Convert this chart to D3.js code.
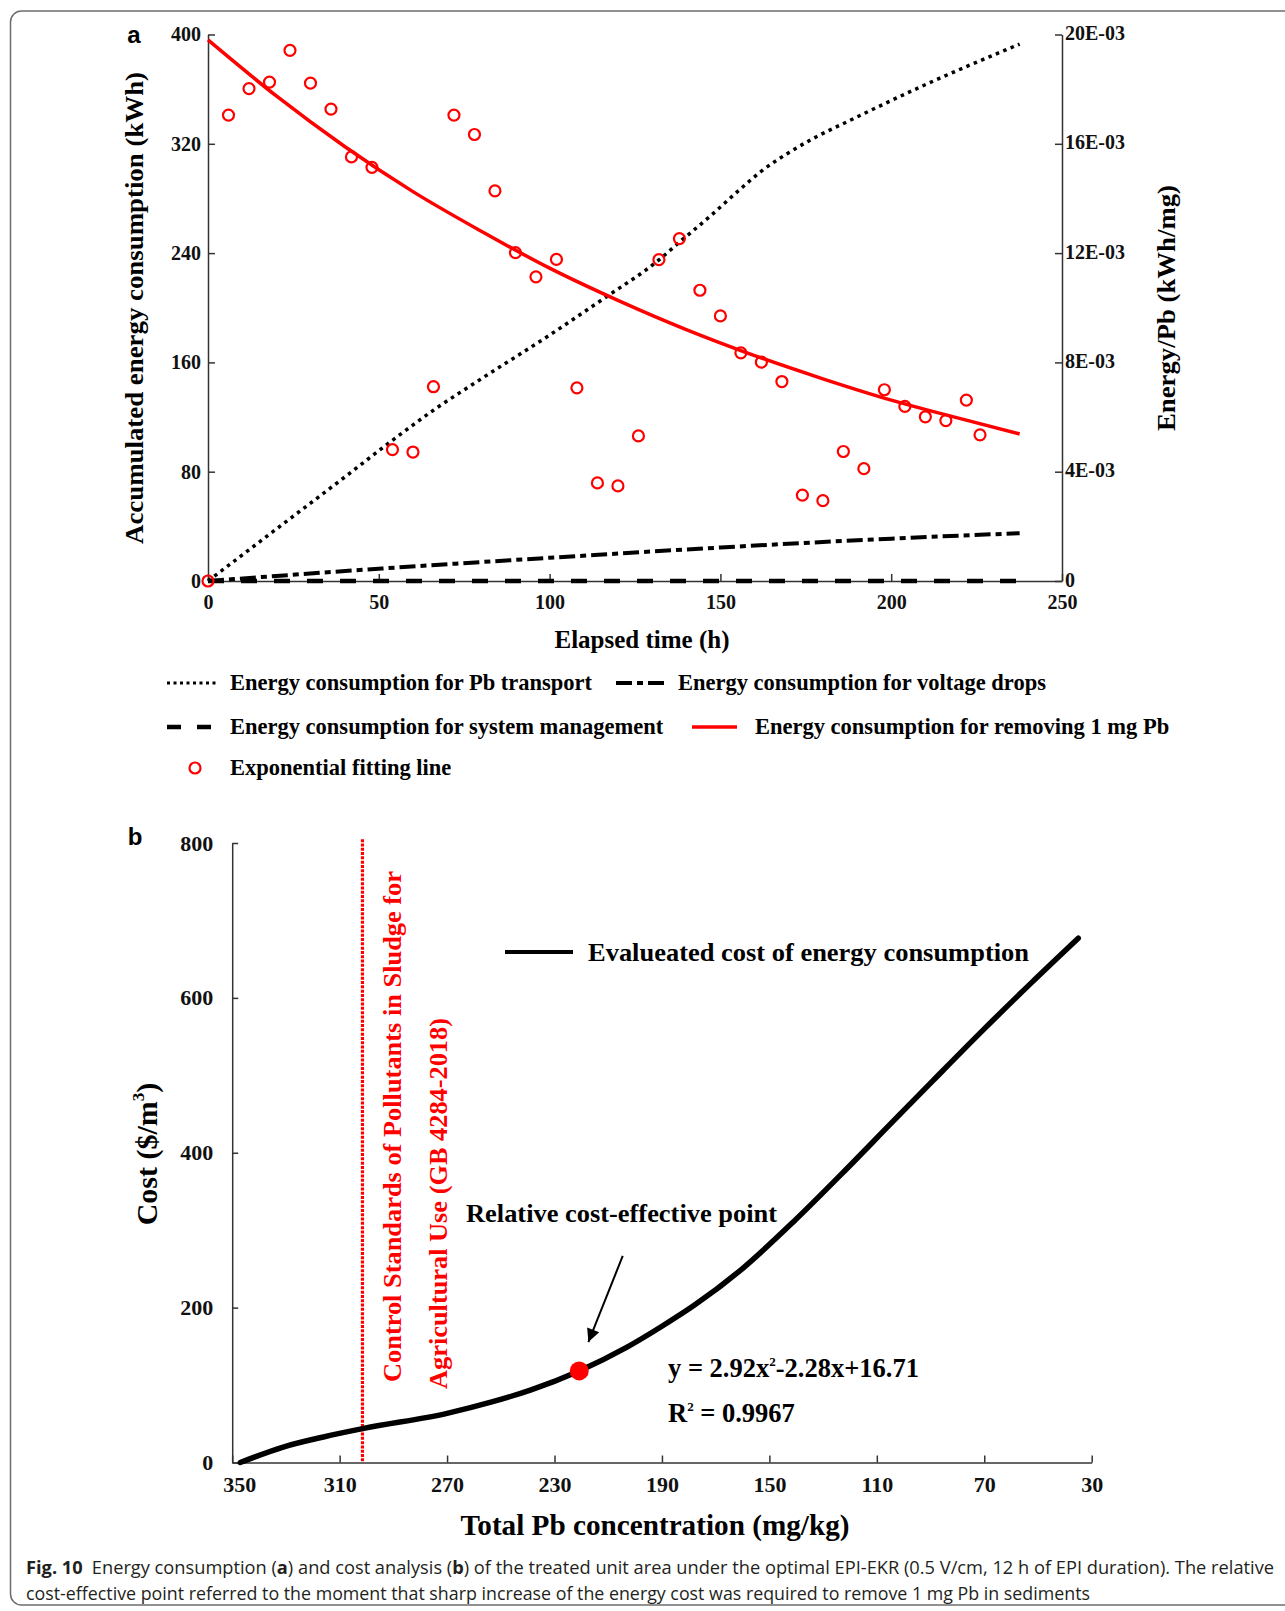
<!DOCTYPE html>
<html>
<head>
<meta charset="utf-8">
<script src="https://cdn.jsdelivr.net/npm/d3@7"></script>
<style>
  body { margin: 0; background: #fff; }
  svg { display: block; }
</style>
</head>
<body>
<svg width="1285" height="1611"></svg>
<script>
// ---- panel a data ----
var hours = [0, 6, 12, 18, 24, 30, 36, 42, 48, 54, 60, 66, 72, 78, 84, 90, 96, 102, 108, 114,
             120, 126, 132, 138, 144, 150, 156, 162, 168, 174, 180, 186, 192, 198, 204, 210, 216, 222, 226];
// energy per mg Pb, in E-03 kWh/mg (right axis)
var energyPerPb = [0, 17.05, 18.02, 18.26, 19.42, 18.22, 17.27, 15.52, 15.14, 4.81, 4.72, 7.11, 17.05, 16.34,
                   14.28, 12.02, 11.13, 11.77, 7.07, 3.59, 3.48, 5.31, 11.76, 12.53, 10.64, 9.70, 8.35, 8.01,
                   7.30, 3.14, 2.94, 4.74, 4.11, 7.00, 6.39, 6.01, 5.87, 6.62, 5.35];

var fitHours = [0, 20, 40, 60, 80, 100, 120, 140, 160, 180, 200, 220, 237.6];
var fitValues = [19.8, 17.75, 15.9, 14.25, 12.8, 11.45, 10.27, 9.2, 8.25, 7.4, 6.62, 5.95, 5.38];

var transportHours = [0, 20, 40, 54, 66, 80, 100, 116, 132, 138, 147, 155, 162, 170, 178, 187, 208, 237.6];
var transportKWh = [0, 38, 76, 103, 125, 148, 180, 207, 235, 248, 267, 285, 300, 313.5, 325, 336, 361, 393];

var voltageHours = [0, 50, 100, 150, 200, 237.6];
var voltageKWh = [0, 9, 17, 24.5, 31, 35];

var mgmtHours = [0, 237.6];
var mgmtKWh = [0, 0];

var xTicksA = [0, 50, 100, 150, 200, 250];
var yTicksA = [0, 80, 160, 240, 320, 400];
var yTicksRight = [0, 4, 8, 12, 16, 20];

// ---- panel b data ----
var pbConc = [347, 331, 316, 301, 270, 253, 239, 220.8, 203, 190, 178, 160, 141, 123, 104, 89, 70, 52, 35];
var cost = [0, 20, 33, 44, 63.5, 78.5, 93.5, 118.3, 149, 176, 203, 250.5, 311, 373, 440.5, 493.5, 560, 621, 677];
var costPoint = [220.8, 118.3];
var stdLimit = 301.5;
var xTicksB = [350, 310, 270, 230, 190, 150, 110, 70, 30];
var yTicksB = [0, 200, 400, 600, 800];

var serif = "'Liberation Serif', 'Times New Roman', serif";
var sans = "'Liberation Sans', Arial, sans-serif";
var red = "#ff0000";

var svg = d3.select("svg");

// frame
svg.append("rect")
  .attr("x", 10.5).attr("y", 11).attr("width", 1400).attr("height", 1594)
  .attr("rx", 11)
  .attr("fill", "none").attr("stroke", "#6d6d6d").attr("stroke-width", 1.5);

// ================= panel a =================
var xA = d3.scaleLinear().domain([0, 250]).range([208, 1062]);
var yL = d3.scaleLinear().domain([0, 400]).range([581, 34.5]);
var yR = d3.scaleLinear().domain([0, 20]).range([581, 34.5]);

function styleAxis(g, size) {
  g.select(".domain").attr("stroke", "#333").attr("stroke-width", 1.5);
  g.selectAll(".tick line").attr("stroke", "#333").attr("stroke-width", 1.5);
  g.selectAll("text").attr("font-family", serif).attr("font-weight", "bold")
    .attr("font-size", size).attr("fill", "#111");
}

svg.append("g").attr("transform", "translate(0,581)")
  .call(d3.axisBottom(xA).tickValues(xTicksA).tickSize(-7).tickSizeOuter(0).tickPadding(14))
  .call(styleAxis, 20);

svg.append("g").attr("transform", "translate(208,0)")
  .call(d3.axisLeft(yL).tickValues(yTicksA).tickSize(-7).tickSizeOuter(0).tickPadding(7))
  .call(styleAxis, 20);

svg.append("g").attr("transform", "translate(1062,0)")
  .call(d3.axisRight(yR).tickValues(yTicksRight).tickSize(-7).tickSizeOuter(0).tickPadding(3)
    .tickFormat(function(d) { return d === 0 ? "0" : d + "E-03"; }))
  .call(styleAxis, 20)
  .selectAll("text").attr("dy", "0.25em");

var lineL = d3.line()
  .x(function(d) { return xA(d[0]); })
  .y(function(d) { return yL(d[1]); })
  .curve(d3.curveMonotoneX);
var lineR = d3.line()
  .x(function(d) { return xA(d[0]); })
  .y(function(d) { return yR(d[1]); })
  .curve(d3.curveMonotoneX);

svg.append("path")
  .datum(d3.zip(mgmtHours, mgmtKWh))
  .attr("d", lineL).attr("fill", "none")
  .attr("stroke", "#000").attr("stroke-width", 4.5).attr("stroke-dasharray", "16,17");

svg.append("path")
  .datum(d3.zip(voltageHours, voltageKWh))
  .attr("d", lineL).attr("fill", "none")
  .attr("stroke", "#000").attr("stroke-width", 4).attr("stroke-dasharray", "16,5,6,5");

svg.append("path")
  .datum(d3.zip(transportHours, transportKWh))
  .attr("d", lineL).attr("fill", "none")
  .attr("stroke", "#000").attr("stroke-width", 3.5).attr("stroke-dasharray", "3.5,4.5");

svg.append("path")
  .datum(d3.zip(fitHours, fitValues))
  .attr("d", lineR).attr("fill", "none")
  .attr("stroke", red).attr("stroke-width", 3.5);

svg.append("g").selectAll("circle")
  .data(d3.zip(hours, energyPerPb))
  .enter().append("circle")
    .attr("cx", function(d) { return xA(d[0]); })
    .attr("cy", function(d) { return yR(d[1]); })
    .attr("r", 5.5)
    .attr("fill", "none").attr("stroke", red).attr("stroke-width", 2.2);

// titles panel a
svg.append("text").text("a")
  .attr("x", 134).attr("y", 43).attr("text-anchor", "middle")
  .attr("font-family", sans).attr("font-weight", "bold").attr("font-size", 24);

svg.append("text").text("Elapsed time (h)")
  .attr("x", 642).attr("y", 648).attr("text-anchor", "middle")
  .attr("font-family", serif).attr("font-weight", "bold").attr("font-size", 25);

svg.append("text").text("Accumulated energy consumption (kWh)")
  .attr("transform", "translate(143,308) rotate(-90)").attr("text-anchor", "middle")
  .attr("textLength", 472).attr("lengthAdjust", "spacingAndGlyphs")
  .attr("font-family", serif).attr("font-weight", "bold").attr("font-size", 26);

svg.append("text").text("Energy/Pb (kWh/mg)")
  .attr("transform", "translate(1175,308) rotate(-90)").attr("text-anchor", "middle")
  .attr("textLength", 246).attr("lengthAdjust", "spacingAndGlyphs")
  .attr("font-family", serif).attr("font-weight", "bold").attr("font-size", 26);

// legend panel a
var legendA = [
  {label: "Energy consumption for Pb transport", x: 167, w: 52, tx: 230, y: 683, stroke: "#000", width: 3, dash: "3,3.5"},
  {label: "Energy consumption for voltage drops", x: 616, w: 48, tx: 678, y: 683, stroke: "#000", width: 4, dash: "16,5,6,5"},
  {label: "Energy consumption for system management", x: 167, w: 52, tx: 230, y: 727, stroke: "#000", width: 4.5, dash: "14,16"},
  {label: "Energy consumption for removing 1 mg Pb", x: 692, w: 45, tx: 755, y: 727, stroke: red, width: 3.5, dash: null},
  {label: "Exponential fitting line", x: 195, w: 0, tx: 230, y: 768, stroke: red, width: 2.2, dash: null, circle: true}
];

var lg = svg.append("g").selectAll("g").data(legendA).enter().append("g");
lg.filter(function(d) { return !d.circle; }).append("line")
  .attr("x1", function(d) { return d.x; })
  .attr("x2", function(d) { return d.x + d.w; })
  .attr("y1", function(d) { return d.y; })
  .attr("y2", function(d) { return d.y; })
  .attr("stroke", function(d) { return d.stroke; })
  .attr("stroke-width", function(d) { return d.width; })
  .attr("stroke-dasharray", function(d) { return d.dash; });
lg.filter(function(d) { return d.circle; }).append("circle")
  .attr("cx", function(d) { return d.x; })
  .attr("cy", function(d) { return d.y; })
  .attr("r", 5.5).attr("fill", "none").attr("stroke", red).attr("stroke-width", 2.2);
lg.append("text")
  .text(function(d) { return d.label; })
  .attr("x", function(d) { return d.tx; })
  .attr("y", function(d) { return d.y + 7; })
  .attr("font-family", serif).attr("font-weight", "bold").attr("font-size", 22.5);

// ================= panel b =================
var xB = d3.scaleLinear().domain([350, 30]).range([232.2, 1091.7]);
var yB = d3.scaleLinear().domain([0, 800]).range([1462.5, 843]);

var xAxisB = svg.append("g").attr("transform", "translate(0,1462.5)")
  .call(d3.axisBottom(xB).tickValues(xTicksB).tickSize(-7).tickSizeOuter(0).tickPadding(14))
  .call(styleAxis, 22);
// first label sits a little to the right of the corner
xAxisB.selectAll(".tick text").filter(function(d) { return d === 350; }).attr("dx", 7);

svg.append("g").attr("transform", "translate(232.2,0)")
  .call(d3.axisLeft(yB).tickValues(yTicksB).tickSize(-6).tickSizeOuter(0).tickPadding(19))
  .call(styleAxis, 22);

// standard limit line
svg.append("line")
  .attr("x1", xB(stdLimit)).attr("x2", xB(stdLimit))
  .attr("y1", yB(805)).attr("y2", yB(0))
  .attr("stroke", red).attr("stroke-width", 3.2).attr("stroke-dasharray", "3,1.3");

var lineB = d3.line()
  .x(function(d) { return xB(d[0]); })
  .y(function(d) { return yB(d[1]); })
  .curve(d3.curveMonotoneX);

svg.append("path")
  .datum(d3.zip(pbConc, cost))
  .attr("d", lineB).attr("fill", "none")
  .attr("stroke", "#000").attr("stroke-width", 5.5).attr("stroke-linecap", "round");

svg.append("circle")
  .attr("cx", xB(costPoint[0])).attr("cy", yB(costPoint[1]))
  .attr("r", 9.5).attr("fill", red);

// arrow pointing at the cost-effective point
var arrowTail = [204.6, 266.7], arrowTip = [217.4, 155.6];
svg.append("defs").append("marker")
  .attr("id", "head").attr("viewBox", "0 0 10 10")
  .attr("refX", 10).attr("refY", 5)
  .attr("markerWidth", 27).attr("markerHeight", 13)
  .attr("markerUnits", "userSpaceOnUse")
  .attr("orient", "auto")
  .append("path").attr("d", "M0,0L10,5L0,10z").attr("fill", "#000");
svg.append("line")
  .attr("x1", xB(arrowTail[0])).attr("y1", yB(arrowTail[1]))
  .attr("x2", xB(arrowTip[0])).attr("y2", yB(arrowTip[1]))
  .attr("stroke", "#000").attr("stroke-width", 2)
  .attr("marker-end", "url(#head)");

// legend panel b
svg.append("line")
  .attr("x1", 505).attr("x2", 573).attr("y1", 952).attr("y2", 952)
  .attr("stroke", "#000").attr("stroke-width", 4);
svg.append("text").text("Evalueated cost of energy consumption")
  .attr("x", 588).attr("y", 961)
  .attr("textLength", 441).attr("lengthAdjust", "spacingAndGlyphs")
  .attr("font-family", serif).attr("font-weight", "bold").attr("font-size", 26);

svg.append("text").text("Relative cost-effective point")
  .attr("x", 466).attr("y", 1222)
  .attr("textLength", 311).attr("lengthAdjust", "spacingAndGlyphs")
  .attr("font-family", serif).attr("font-weight", "bold").attr("font-size", 26);

var eq = svg.append("text").attr("x", 668).attr("y", 1377)
  .attr("font-family", serif).attr("font-weight", "bold").attr("font-size", 26.5);
eq.append("tspan").text("y = 2.92x");
eq.append("tspan").text("2").attr("font-size", 13).attr("dy", -11);
eq.append("tspan").text("-2.28x+16.71").attr("dy", 11);

var r2 = svg.append("text").attr("x", 668).attr("y", 1422)
  .attr("font-family", serif).attr("font-weight", "bold").attr("font-size", 26.5);
r2.append("tspan").text("R");
r2.append("tspan").text("2").attr("font-size", 13).attr("dy", -11);
r2.append("tspan").text(" = 0.9967").attr("dy", 11);

svg.append("text").text("Control Standards of Pollutants in Sludge for")
  .attr("transform", "translate(401,1382) rotate(-90)")
  .attr("textLength", 511).attr("lengthAdjust", "spacingAndGlyphs")
  .attr("fill", red).attr("font-family", serif).attr("font-weight", "bold").attr("font-size", 25);
svg.append("text").text("Agricultural Use (GB 4284-2018)")
  .attr("transform", "translate(447,1389) rotate(-90)")
  .attr("textLength", 371).attr("lengthAdjust", "spacingAndGlyphs")
  .attr("fill", red).attr("font-family", serif).attr("font-weight", "bold").attr("font-size", 25);

svg.append("text").text("b")
  .attr("x", 135).attr("y", 845).attr("text-anchor", "middle")
  .attr("font-family", sans).attr("font-weight", "bold").attr("font-size", 24);

var costTitle = svg.append("text")
  .attr("transform", "translate(157,1154) rotate(-90)").attr("text-anchor", "middle")
  .attr("font-family", serif).attr("font-weight", "bold").attr("font-size", 30);
costTitle.append("tspan").text("Cost ($/m");
costTitle.append("tspan").text("3").attr("font-size", 17).attr("dy", -13);
costTitle.append("tspan").text(")").attr("dy", 13);

svg.append("text").text("Total Pb concentration (mg/kg)")
  .attr("x", 655).attr("y", 1535).attr("text-anchor", "middle")
  .attr("textLength", 389).attr("lengthAdjust", "spacingAndGlyphs")
  .attr("font-family", serif).attr("font-weight", "bold").attr("font-size", 29);

// caption
var cap1 = svg.append("text").attr("x", 26).attr("y", 1574)
  .attr("textLength", 1248).attr("lengthAdjust", "spacingAndGlyphs")
  .attr("font-family", "'Open Sans', sans-serif").attr("font-size", 18).attr("fill", "#231f20");
cap1.append("tspan").text("Fig. 10").attr("font-weight", "bold");
cap1.append("tspan").text("Energy consumption (").attr("dx", 9);
cap1.append("tspan").text("a").attr("font-weight", "bold");
cap1.append("tspan").text(") and cost analysis (");
cap1.append("tspan").text("b").attr("font-weight", "bold");
cap1.append("tspan").text(") of the treated unit area under the optimal EPI-EKR (0.5 V/cm, 12 h of EPI duration). The relative");

svg.append("text").attr("x", 26).attr("y", 1600)
  .text("cost-effective point referred to the moment that sharp increase of the energy cost was required to remove 1 mg Pb in sediments")
  .attr("textLength", 1064).attr("lengthAdjust", "spacingAndGlyphs")
  .attr("font-family", "'Open Sans', sans-serif").attr("font-size", 18).attr("fill", "#231f20");
</script>
</body>
</html>
